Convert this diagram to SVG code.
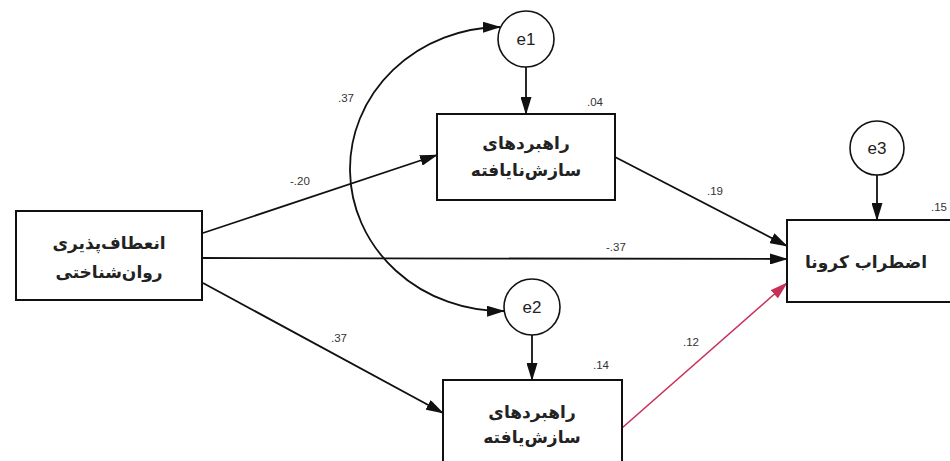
<svg xmlns="http://www.w3.org/2000/svg" width="950" height="461" viewBox="0 0 950 461">
<style>
.box{fill:#fff;stroke:#111;stroke-width:2}
.err{fill:#fff;stroke:#111;stroke-width:1.6}
.t{font-family:"DejaVu Sans",sans-serif;font-size:17px;font-weight:bold;fill:#222;text-anchor:middle}
.e{font-family:"Liberation Sans",Arial,sans-serif;font-size:17px;fill:#222;text-anchor:middle}
.n{font-family:"Liberation Sans",Arial,sans-serif;font-size:11.5px;fill:#333}
.c{fill:none;stroke:#111;stroke-width:1.8}
.r{fill:none;stroke:#c8305a;stroke-width:1.6}
</style>
<defs>
<marker id="ah" markerWidth="18" markerHeight="11" refX="17" refY="5.5" orient="auto-start-reverse" markerUnits="userSpaceOnUse">
<path d="M0,0 L18,5.5 L0,11 Z" fill="#111"/>
</marker>
<marker id="ahr" markerWidth="18" markerHeight="11" refX="17" refY="5.5" orient="auto" markerUnits="userSpaceOnUse">
<path d="M0,0 L18,5.5 L0,11 Z" fill="#c8305a"/>
</marker>
</defs>
<rect width="950" height="461" fill="#fff"/>
<g id="connectors">
<path class="c" d="M500,27 A152,142 0 0 0 504,311" marker-start="url(#ah)" marker-end="url(#ah)"/>
<line class="c" x1="203" y1="233" x2="437" y2="155" marker-end="url(#ah)"/>
<line class="c" x1="203" y1="258" x2="787" y2="259" marker-end="url(#ah)"/>
<line class="c" x1="203" y1="283" x2="443" y2="413" marker-end="url(#ah)"/>
<line class="c" x1="615" y1="157" x2="787" y2="246" marker-end="url(#ah)"/>
<line class="r" x1="622" y1="428" x2="787" y2="283" marker-end="url(#ahr)"/>
<line class="c" x1="526" y1="67" x2="526" y2="114" marker-end="url(#ah)"/>
<line class="c" x1="532" y1="334" x2="532" y2="380" marker-end="url(#ah)"/>
<line class="c" x1="877" y1="175" x2="877" y2="220" marker-end="url(#ah)"/>
</g>
<g id="labels">
<text class="n" x="338" y="102">.37</text>
<text class="n" x="290" y="185">-.20</text>
<text class="n" x="606" y="251">-.37</text>
<text class="n" x="331" y="342">.37</text>
<text class="n" x="707" y="195">.19</text>
<text class="n" x="683" y="346">.12</text>
<text class="n" x="587" y="106">.04</text>
<text class="n" x="593" y="369">.14</text>
<text class="n" x="931" y="211">.15</text>
</g>
<g id="node-left">
<rect class="box" x="16" y="211" width="186" height="89"/>
<text class="t" x="109" y="249">انعطاف‌پذیری</text>
<text class="t" x="109" y="278">روان‌شناختی</text>
</g>
<g id="node-top">
<rect class="box" x="437" y="114" width="178" height="86"/>
<text class="t" x="526" y="149">راهبردهای</text>
<text class="t" x="526" y="176">سازش‌نایافته</text>
</g>
<g id="node-bottom">
<rect class="box" x="443" y="380" width="179" height="95"/>
<text class="t" x="532" y="418">راهبردهای</text>
<text class="t" x="532" y="443">سازش‌یافته</text>
</g>
<g id="node-right">
<rect class="box" x="787" y="220" width="180" height="82"/>
<text class="t" x="866" y="268">اضطراب کرونا</text>
</g>
<g id="e1">
<circle class="err" cx="526" cy="39" r="28"/>
<text class="e" x="526" y="45">e1</text>
</g>
<g id="e2">
<circle class="err" cx="532" cy="307" r="28"/>
<text class="e" x="532" y="313">e2</text>
</g>
<g id="e3">
<circle class="err" cx="877" cy="148" r="27"/>
<text class="e" x="877" y="154">e3</text>
</g>
</svg>
